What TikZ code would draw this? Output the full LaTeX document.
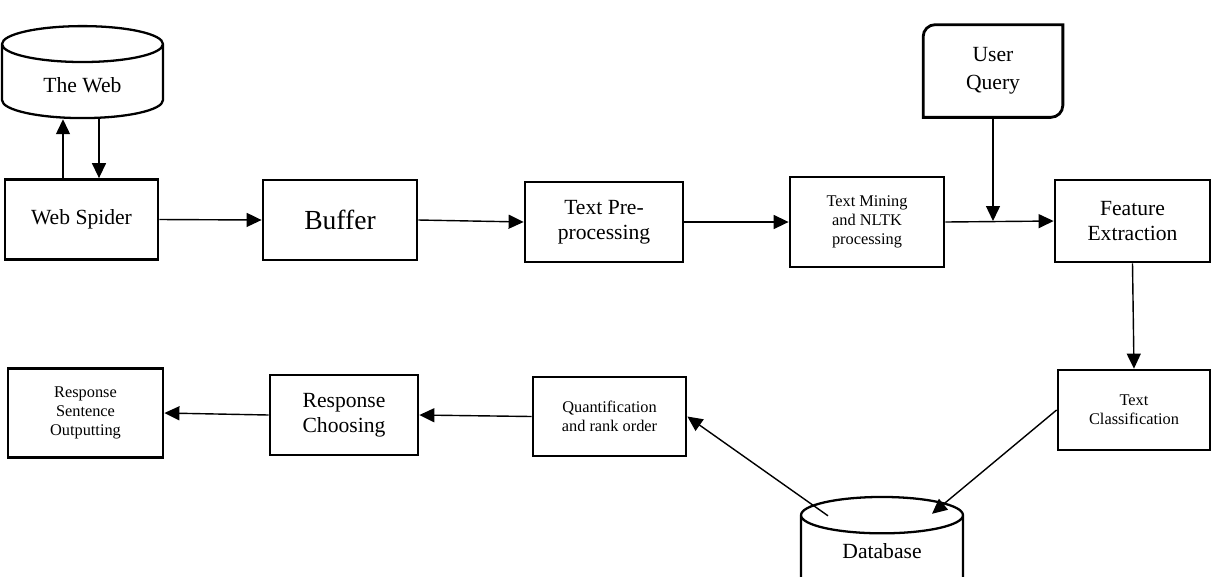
\documentclass[tikz,border=0pt]{standalone}
\usepackage{fontspec}
\setmainfont{Liberation Serif}
\usetikzlibrary{shapes.geometric,arrows.meta}

\begin{document}
\begin{tikzpicture}[x=0.02cm,y=-0.02cm,
    font=\fontsize{12.3}{14.5}\selectfont]
    \tikzset{
        procbox/.style={
            draw, line width=1.6pt, align=center,
            minimum width=#1, minimum height=1.6cm, inner sep=2pt
        },
        procbox/.default=3.08cm,
        smallfont/.style={font=\fontsize{9.3}{11}\selectfont},
        store/.style={
            cylinder, shape border rotate=90, aspect=0.4, draw,
            line width=1.3pt, minimum width=3.22cm, align=center
        },
        arr/.style={
            -{Triangle[length=0.3cm,width=0.28cm]}, line width=0.8pt
        }
    }
    \useasboundingbox (0,0) rectangle (1214,576);

    \node[store, minimum height=1.84cm] (web) at (82.5,85) {The Web};
    \node[procbox=3.06cm] (spider) at (81.5,219.5) {Web Spider};
    \node[procbox, font=\fontsize{15.7}{18}\selectfont] (buffer) at (340,220) {Buffer};
    \node[procbox=3.16cm] (prep) at (604,222) {Text Pre-\\processing};
    \node[procbox, smallfont, minimum height=1.8cm] (mining) at (867,222)
        {Text Mining\\and NLTK\\processing};
    \node[align=center, minimum width=2.78cm, minimum height=1.84cm,
        font=\fontsize{12.3}{16}\selectfont] (query) at (993,71) {User\\Query};
    \node[procbox=3.1cm, minimum height=1.64cm] (feat) at (1132.5,221)
        {Feature\\Extraction};
    \node[procbox=3.04cm, smallfont] (tclass) at (1134,410) {Text\\Classification};
    \node[store, minimum height=2.4cm, minimum width=3.24cm, text depth=0.75cm]
        (db) at (882,570) {Database};
    \node[procbox=3.06cm, smallfont, minimum height=1.58cm] (quant) at (609.5,416.5)
        {Quantification\\and rank order};
    \node[procbox=2.96cm] (choose) at (344,415) {Response\\Choosing};
    \node[procbox=3.1cm, smallfont, minimum height=1.78cm] (out) at (85.5,413)
        {Response\\Sentence\\Outputting};

    % user query card: rounded top-left and bottom-right corners
    \draw[line width=1.6pt] (query.north east) -- ([yshift=0.24cm]query.south east)
        arc (0:-90:0.24cm) -- (query.south west) -- ([yshift=-0.24cm]query.north west)
        arc (180:90:0.24cm) -- cycle;

    \coordinate (dbin) at ([xshift=1.0cm,yshift=-0.36cm]db.north);
    \coordinate (dbout) at ([xshift=-1.08cm,yshift=-0.4cm]db.north);

    \draw[arr] ([xshift=-0.37cm]spider.north) -- ([xshift=-0.37cm]spider.north |- web.south);
    \draw[arr] ([xshift=0.33cm]web.south) -- ([xshift=0.33cm]web.south |- spider.north);
    \draw[arr] (spider.east) -- (buffer.west);
    \draw[arr] (buffer.east) -- (prep.west);
    \draw[arr] (prep.east) -- (mining.west);
    \draw[arr] (mining.east) -- (feat.west);
    \draw[arr] (query.south) -- (query.south |- feat.west);
    \draw[arr] (feat.south) -- (tclass.north);
    \draw[arr] (tclass.west) -- (dbin);
    \draw[arr] (dbout) -- (quant.east);
    \draw[arr] (quant.west) -- (choose.east);
    \draw[arr] (choose.west) -- (out.east);
\end{tikzpicture}
\end{document}
